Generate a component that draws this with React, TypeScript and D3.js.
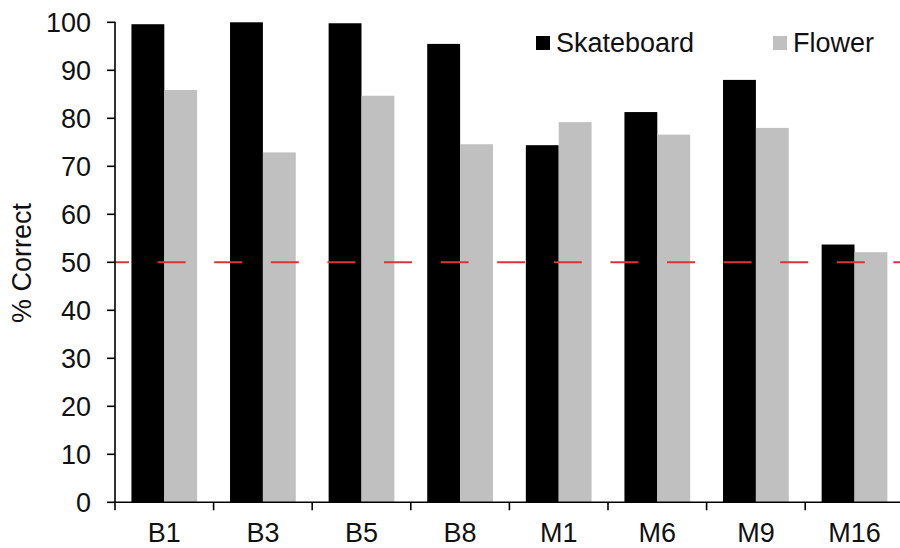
import React from "react";
import * as d3 from "d3";

const categories = ["B1", "B3", "B5", "B8", "M1", "M6", "M9", "M16"];
const series = ["Skateboard", "Flower"];
const skateboard = [99.6, 100, 99.8, 95.5, 74.4, 81.3, 88.0, 53.7];
const flower = [85.9, 72.9, 84.7, 74.6, 79.2, 76.6, 78.0, 52.1];
const yTicks = [0, 10, 20, 30, 40, 50, 60, 70, 80, 90, 100];
const chanceLevel = 50;
const colors = ["#000000", "#c0c0c0"];

const W = 900;
const H = 548;
const left = 115;
const bottom = 502.3;
const top = 22.3;
const FONT = "'Liberation Sans', Arial, sans-serif";
const FS = 27;

export default function App() {
  const x = d3.scaleBand<string>().domain(categories).range([left, left + 8 * 98.6]).paddingInner(0).paddingOuter(0);
  const inner = d3.scaleBand<string>().domain(series).range([0, x.bandwidth() * (2 / 3)]);
  const y = d3.scaleLinear().domain([0, 100]).range([bottom, top]);
  const groupOffset = (x.bandwidth() - inner.range()[1]) / 2;
  const data = [skateboard, flower];

  return (
    <svg width={W} height={H} style={{ position: "absolute", left: 0, top: 0, background: "#fff" }} fontFamily={FONT}>
      <rect x={0} y={0} width={W} height={H} fill="#fff" />
      {series.map((s, si) =>
        categories.map((c, ci) => (
          <rect
            key={s + c}
            x={(x(c) as number) + groupOffset + (inner(s) as number)}
            y={y(data[si][ci])}
            width={inner.bandwidth()}
            height={y(0) - y(data[si][ci])}
            fill={colors[si]}
          />
        ))
      )}
      <line
        x1={left}
        x2={W}
        y1={y(chanceLevel)}
        y2={y(chanceLevel)}
        stroke="#d9343c"
        strokeWidth={2}
        strokeDasharray="28 28.6"
        strokeDashoffset={14}
      />
      <line x1={left} x2={left} y1={y(100) - 0.5} y2={y(0)} stroke="#000" strokeWidth={1.6} />
      {yTicks.map((t) => (
        <g key={t}>
          <line x1={left - 8} x2={left} y1={y(t)} y2={y(t)} stroke="#000" strokeWidth={1.6} />
          <text x={91} y={y(t)} dy="0.36em" textAnchor="end" fontSize={FS} fill="#111">
            {t}
          </text>
        </g>
      ))}
      <line x1={left} x2={W} y1={y(0)} y2={y(0)} stroke="#000" strokeWidth={1.6} />
      {categories.map((c) => (
        <line
          key={"t" + c}
          x1={x(c) as number}
          x2={x(c) as number}
          y1={y(0)}
          y2={y(0) + 8}
          stroke="#000"
          strokeWidth={1.6}
        />
      ))}
      {categories.map((c) => (
        <text
          key={"l" + c}
          x={(x(c) as number) + x.bandwidth() / 2}
          y={542}
          textAnchor="middle"
          fontSize={FS}
          fill="#111"
        >
          {c}
        </text>
      ))}
      <text transform={`translate(31, 263) rotate(-90)`} textAnchor="middle" fontSize={FS} fill="#111">
        % Correct
      </text>
      <rect x={536} y={36} width={14} height={14} fill={colors[0]} />
      <text x={556} y={52} fontSize={FS} fill="#111">{series[0]}</text>
      <rect x={773} y={36} width={14} height={14} fill={colors[1]} />
      <text x={793} y={52} fontSize={FS} fill="#111">{series[1]}</text>
    </svg>
  );
}
